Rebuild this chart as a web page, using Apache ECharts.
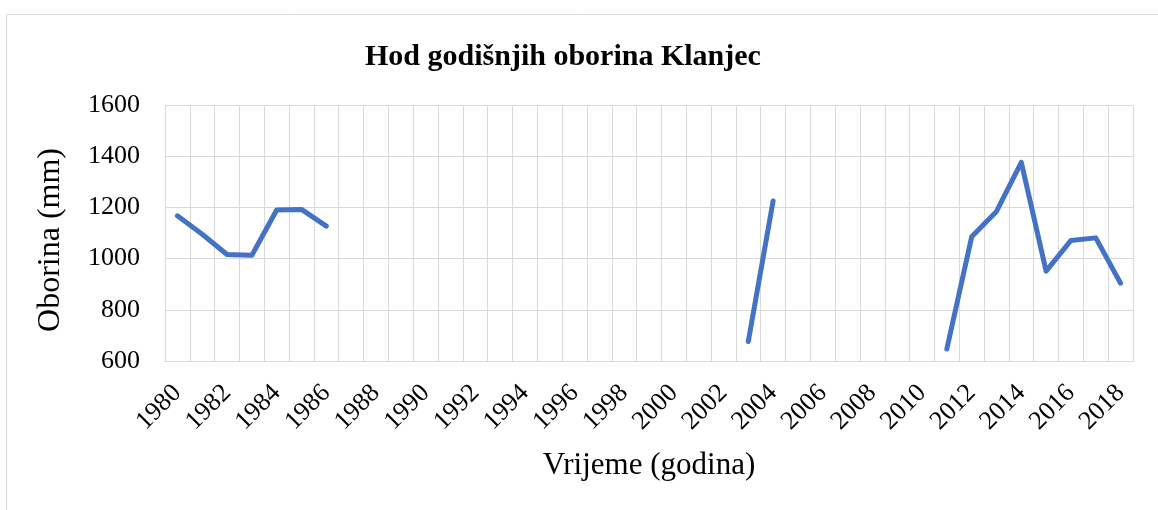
<!DOCTYPE html>
<html>
<head>
<meta charset="utf-8">
<script src="https://cdn.jsdelivr.net/npm/echarts@6/dist/echarts.min.js"></script>
<style>
  html, body { margin: 0; padding: 0; background: #fff; }
  #chart { width: 1158px; height: 510px; }
</style>
</head>
<body>
<div id="chart"></div>
<script>
// years 1980..2018, null = no measurement
var years = [];
for (var y = 1980; y <= 2018; y++) years.push(String(y));

var oborina = [
  1167, 1095, 1016, 1013, 1190, 1192, 1127,   // 1980-1986
  null, null, null, null, null, null, null, null, // 1987-1994
  null, null, null, null, null, null, null, null, // 1995-2002
  676, 1225,                                   // 2003-2004
  null, null, null, null, null, null,          // 2005-2010
  647, 1085, 1184, 1376, 951, 1071, 1081, 904  // 2011-2018
];

var yTicks = [600, 800, 1000, 1200, 1400, 1600];

var serif = '"Liberation Serif", "DejaVu Serif", serif';
var myChart = echarts.init(document.getElementById('chart'));
var option;

option = {
  animation: false,
  title: {
    text: 'Hod godišnjih oborina Klanjec',
    left: 360,
    top: 37,
    textStyle: { fontFamily: serif, fontSize: 30, fontWeight: 'bold', color: '#000' }
  },
  graphic: [{
    type: 'rect',
    shape: { x: 6.5, y: 14.5, width: 1170, height: 520 },
    style: { fill: 'none', stroke: '#d9d9d9', lineWidth: 1 },
    silent: true
  }],
  grid: { left: 165, right: 25, top: 105, bottom: 149 },
  xAxis: {
    type: 'category',
    data: years,
    boundaryGap: true,
    name: 'Vrijeme (godina)',
    nameLocation: 'middle',
    nameGap: 89,
    nameTextStyle: { fontFamily: serif, fontSize: 31, color: '#000' },
    axisLine: { lineStyle: { color: '#d9d9d9', width: 1 } },
    axisTick: { show: false },
    splitLine: { show: true, interval: 0, lineStyle: { color: '#d9d9d9', width: 1 } },
    axisLabel: {
      interval: 1,
      rotate: 45,
      margin: 28,
      fontFamily: serif,
      fontSize: 26,
      color: '#000'
    }
  },
  yAxis: {
    type: 'value',
    min: yTicks[0],
    max: yTicks[yTicks.length - 1],
    interval: 200,
    name: 'Oborina (mm)',
    nameLocation: 'middle',
    nameGap: 98,
    nameTextStyle: { fontFamily: serif, fontSize: 32, color: '#000', padding: [0, 14, 0, 0] },
    axisLine: { show: false },
    axisTick: { show: false },
    splitLine: { lineStyle: { color: '#d9d9d9', width: 1 } },
    axisLabel: {
      margin: 25,
      fontFamily: serif,
      fontSize: 26,
      color: '#000',
      formatter: function (v) { return String(v); }
    }
  },
  series: [{
    type: 'line',
    data: oborina,
    connectNulls: false,
    showSymbol: false,
    lineStyle: { color: '#4472C4', width: 5, cap: 'round', join: 'round' },
    itemStyle: { color: '#4472C4' }
  }]
};

option && myChart.setOption(option);
</script>
</body>
</html>
